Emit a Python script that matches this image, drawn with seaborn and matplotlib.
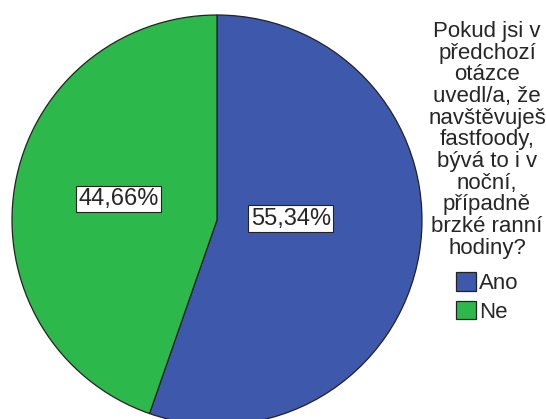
import numpy as np
import matplotlib
matplotlib.use("Agg")
import matplotlib.pyplot as plt
import seaborn as sns

# data
categories = ["Ano", "Ne"]
shares = [55.34, 44.66]
colors = ["#3E58AC", "#2DB84B"]
legend_title = ("Pokud jsi v\npředchozí\notázce\nuvedl/a, že\nnavštěvuješ\n"
                "fastfoody,\nbývá to i v\nnoční,\npřípadně\nbrzké ranní\nhodiny?")
# placement of each percentage label: fraction of radius, angle nudge (deg)
label_r = [0.36, 0.49]
label_nudge = [10.5, -2.5]

sns.set_theme(style="white")
plt.rcParams["font.family"] = ["Liberation Sans", "DejaVu Sans"]

fig = plt.figure(figsize=(5.46, 4.19), dpi=100)
ax = fig.add_axes([12 / 546, -6 / 419, 410 / 546, 410 / 419])

wedges, _ = ax.pie(shares, colors=colors, startangle=90, counterclock=False,
                   wedgeprops=dict(edgecolor="#222222", linewidth=0.9))
ax.set_xlim(-1, 1)
ax.set_ylim(-1, 1)
ax.set_aspect("equal")
ax.axis("off")

# percentage labels in white boxes
for w, val, r, nd in zip(wedges, shares, label_r, label_nudge):
    ang = np.deg2rad((w.theta1 + w.theta2) / 2 + nd)
    ax.text(r * np.cos(ang), r * np.sin(ang), f"{val:.2f}%".replace(".", ","),
            ha="center", va="center", fontsize=17,
            bbox=dict(boxstyle="square,pad=0.1", facecolor="white",
                      edgecolor="#222222", linewidth=0.8))

leg = fig.legend(wedges, categories, title=legend_title,
                 loc="upper center", bbox_to_anchor=(487 / 546, 1 - 10 / 419),
                 frameon=False, fontsize=16, title_fontsize=16,
                 handlelength=0.9, handleheight=0.9, handletextpad=0.15,
                 labelspacing=0.3, borderpad=0)
leg.get_title().set_multialignment("center")
leg.get_title().set_linespacing(1.04)
# a bit more room between the title and the entries
leg._legend_box.sep += 5

fig.savefig("out.png", dpi=100)
